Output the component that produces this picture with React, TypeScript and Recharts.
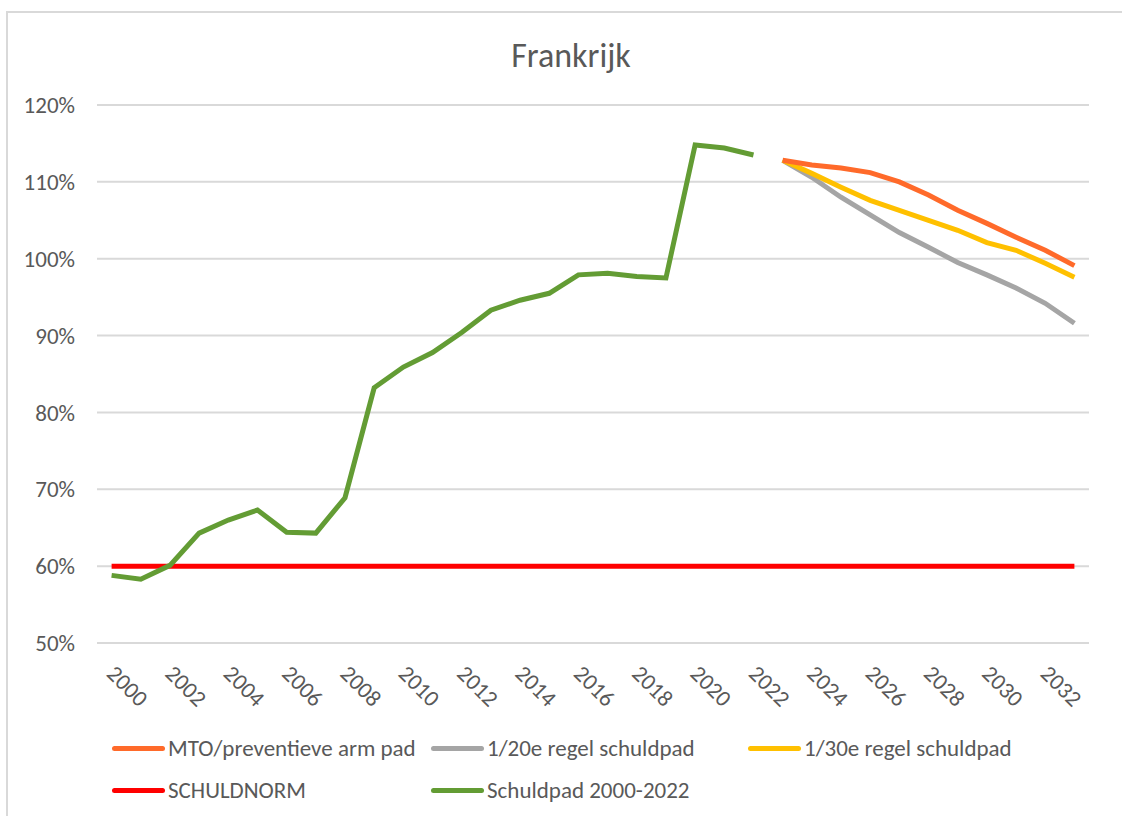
import { LineChart, Line, XAxis, YAxis, CartesianGrid } from "recharts";

const years = Array.from({ length: 34 }, (_, i) => String(2000 + i));

// Schuldpad 2000-2022 (% bbp)
const schuldpad = [
  58.8, 58.3, 60.1, 64.3, 66.0, 67.3, 64.4, 64.3, 68.9, 83.2, 85.9, 87.8,
  90.4, 93.3, 94.6, 95.5, 97.9, 98.1, 97.7, 97.5, 114.8, 114.4, 113.5,
];

// projecties 2023-2033
const mto = [112.8, 112.2, 111.8, 111.2, 110.0, 108.3, 106.3, 104.6, 102.8, 101.1, 99.1];
const regel20 = [112.8, 110.6, 108.0, 105.7, 103.4, 101.5, 99.5, 97.9, 96.2, 94.2, 91.6];
const regel30 = [112.8, 111.1, 109.3, 107.6, 106.3, 105.0, 103.7, 102.1, 101.1, 99.4, 97.6];

const schuldnorm = 60;
const yTicks = [50, 60, 70, 80, 90, 100, 110, 120];

const projStart = 23;

const data = years.map((year, i) => ({
  year,
  schuldpad: i < schuldpad.length ? schuldpad[i] : null,
  mto: i >= projStart ? mto[i - projStart] : null,
  regel20: i >= projStart ? regel20[i - projStart] : null,
  regel30: i >= projStart ? regel30[i - projStart] : null,
  norm: schuldnorm,
}));

const FONT = "Carlito, Lato, sans-serif";
const TEXT = "#595959";

const legendRows = [
  [
    { label: "MTO/preventieve arm pad", color: "#ff6a2a", x: 112 },
    { label: "1/20e regel schuldpad", color: "#a5a5a5", x: 431 },
    { label: "1/30e regel schuldpad", color: "#ffc000", x: 748 },
  ],
  [
    { label: "SCHULDNORM", color: "#ff0000", x: 112 },
    { label: "Schuldpad 2000-2022", color: "#639c34", x: 431 },
  ],
];

function ChartLegend() {
  return (
    <>
      {legendRows.map((row, r) =>
        row.map((item) => (
          <div
            key={item.label}
            style={{
              position: "absolute",
              left: item.x,
              top: 734 + r * 42,
              height: 28,
              display: "flex",
              alignItems: "center",
              fontFamily: FONT,
              fontSize: 23,
              color: TEXT,
              whiteSpace: "nowrap",
            }}
          >
            <span
              style={{
                display: "inline-block",
                width: 53,
                height: 5,
                borderRadius: 3,
                background: item.color,
                marginRight: 3,
              }}
            />
            {item.label}
          </div>
        ))
      )}
    </>
  );
}

function YearTick({ x, y, payload }: any) {
  const x0 = x - 6;
  const y0 = y + 32;
  return (
    <text
      x={x0}
      y={y0}
      transform={`rotate(45, ${x0}, ${y0})`}
      textAnchor="start"
      fontFamily={FONT}
      fontSize={23}
      fill={TEXT}
    >
      {payload.value}
    </text>
  );
}

export default function App() {
  return (
    <div
      style={{
        position: "absolute",
        left: 0,
        top: 0,
        width: 1122,
        height: 816,
        background: "#fff",
        overflow: "hidden",
      }}
    >
      <div
        style={{
          position: "absolute",
          left: 6,
          top: 11,
          width: 1130,
          height: 820,
          borderLeft: "2px solid #d9d9d9",
          borderTop: "2px solid #d9d9d9",
        }}
      />
      <div
        style={{
          position: "absolute",
          left: 0,
          top: 35,
          width: 1142,
          textAlign: "center",
          fontFamily: FONT,
          fontSize: 34,
          lineHeight: "normal",
          color: TEXT,
        }}
      >
        Frankrijk
      </div>
      <div style={{ position: "absolute", left: 0, top: 0 }}>
        <LineChart
          width={1122}
          height={816}
          data={data}
          margin={{ top: 105, right: 33, bottom: 83, left: 27 }}
        >
          <CartesianGrid vertical={false} stroke="#d9d9d9" strokeWidth={2} />
          <XAxis
            dataKey="year"
            interval={1}
            axisLine={false}
            tickLine={false}
            padding={{ left: 14.6, right: 14.6 }}
            tick={<YearTick />}
            tickSize={0}
            tickMargin={0}
            height={90}
          />
          <YAxis
            domain={[50, 120]}
            ticks={yTicks}
            tickFormatter={(v: number) => `${v}%`}
            axisLine={false}
            tickLine={false}
            tickSize={0}
            tickMargin={22}
            width={70}
            tick={{ fill: TEXT, fontSize: 23, fontFamily: FONT }}
          />
          <Line dataKey="norm" stroke="#ff0000" strokeWidth={5} dot={false} isAnimationActive={false} />
          <Line dataKey="schuldpad" stroke="#639c34" strokeWidth={5} dot={false} isAnimationActive={false} />
          <Line dataKey="regel20" stroke="#a5a5a5" strokeWidth={5} dot={false} isAnimationActive={false} />
          <Line dataKey="regel30" stroke="#ffc000" strokeWidth={5} dot={false} isAnimationActive={false} />
          <Line dataKey="mto" stroke="#ff6a2a" strokeWidth={5} dot={false} isAnimationActive={false} />
        </LineChart>
      </div>
      <ChartLegend />
    </div>
  );
}
